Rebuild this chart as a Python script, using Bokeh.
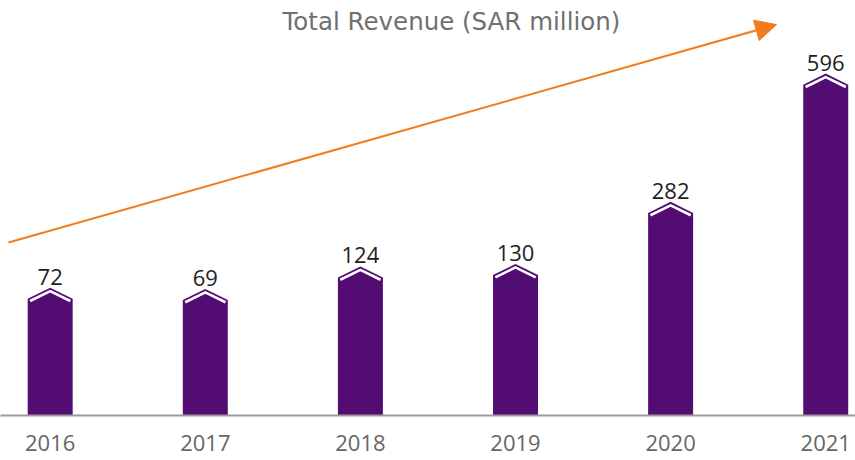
from bokeh.plotting import figure
from bokeh.models import Range1d, FixedTicker, Arrow, NormalHead, Label, ColumnDataSource
from bokeh.core.properties import value
from bokeh.embed import file_html
from bokeh.resources import INLINE

# ---- data ----
years = ["2016", "2017", "2018", "2019", "2020", "2021"]
revenue = [72, 69, 124, 130, 282, 596]
title_text = "Total Revenue (SAR million)"

# ---- layout / style constants ----
AXIS_FLOOR = -241          # value at the baseline (chart uses a raised floor)
Y_TOP = 775
X_LO, X_HI = -0.3204, 5.192
BAR_W = 0.29
CAP = 27                   # height of pointed cap, data units
DROP = 8.5                 # white chevron offset below top edge
INSET = 0.015
PURPLE = "#520c72"
ORANGE = "#f07c1e"
NUM_FONT = "Open Sans"
TITLE_FONT = "DejaVu Sans"

idx = list(range(len(years)))
hw = BAR_W / 2

bar_xs, bar_ys, chev_xs, chev_ys = [], [], [], []
for i, v in zip(idx, revenue):
    bar_xs.append([i - hw, i - hw, i, i + hw, i + hw])
    bar_ys.append([AXIS_FLOOR, v - CAP, v, v - CAP, AXIS_FLOOR])
    edge_y = v - CAP + CAP * (INSET / hw)
    chev_xs.append([i - hw + INSET, i, i + hw - INSET])
    chev_ys.append([edge_y - DROP, v - DROP, edge_y - DROP])

p = figure(width=855, height=460, output_backend="svg", toolbar_location=None,
           x_range=Range1d(X_LO, X_HI), y_range=Range1d(AXIS_FLOOR, Y_TOP),
           y_axis_location=None, min_border_left=0, min_border_right=0,
           min_border_top=0, min_border_bottom=45)
p.outline_line_color = None
p.grid.visible = False
p.background_fill_color = "white"

p.patches(xs=bar_xs, ys=bar_ys, fill_color=PURPLE, line_color=None)
p.multi_line(xs=chev_xs, ys=chev_ys, line_color="white", line_width=2.6,
             line_join="miter", line_cap="butt")

src = ColumnDataSource(dict(x=idx, y=revenue, t=[str(r) for r in revenue]))
p.text(x="x", y="y", text="t", source=src, text_align="center",
       text_baseline="alphabetic", y_offset=-11, text_font=value(NUM_FONT),
       text_font_size="22px", text_color="#1e1e1e")

ax = p.xaxis[0]
ax.ticker = FixedTicker(ticks=idx)
ax.major_label_overrides = {i: y for i, y in zip(idx, years)}
ax.axis_line_color = "#9a9a9a"
ax.axis_line_width = 2
ax.major_tick_line_color = None
ax.minor_tick_line_color = None
ax.major_label_text_font = NUM_FONT
ax.major_label_text_font_size = "22px"
ax.major_label_text_color = "#666666"
ax.major_label_standoff = 13

p.add_layout(Arrow(end=NormalHead(size=21, fill_color=ORANGE, line_color=ORANGE),
                   x_start=-0.269, y_start=182.5, x_end=4.683, y_end=716,
                   line_color=ORANGE, line_width=2))

p.add_layout(Label(x=2.587, y=723.5, text=title_text, text_align="center",
                   text_baseline="middle", text_font=TITLE_FONT,
                   text_font_size="24.5px", text_color="#707070"))

open("out.html", "w").write(file_html(p, INLINE))
